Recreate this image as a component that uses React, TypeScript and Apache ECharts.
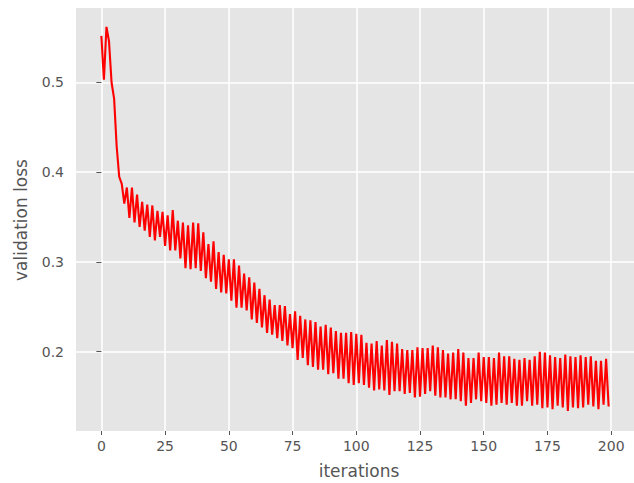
import React, { useEffect, useRef } from "react";
import * as echarts from "echarts";

const lossValues: number[] = [
  0.552, 0.503, 0.562, 0.546, 0.5, 0.482, 0.429, 0.395, 0.387, 0.365,
  0.383, 0.349, 0.383, 0.344, 0.375, 0.339, 0.367, 0.335, 0.364, 0.328,
  0.363, 0.324, 0.357, 0.328, 0.356, 0.318, 0.352, 0.313, 0.358, 0.313,
  0.346, 0.304, 0.344, 0.293, 0.341, 0.292, 0.344, 0.293, 0.343, 0.29,
  0.333, 0.282, 0.32, 0.278, 0.323, 0.27, 0.311, 0.266, 0.308, 0.265,
  0.303, 0.257, 0.303, 0.249, 0.296, 0.249, 0.287, 0.246, 0.283, 0.236,
  0.277, 0.232, 0.27, 0.227, 0.263, 0.221, 0.258, 0.219, 0.252, 0.215,
  0.252, 0.212, 0.251, 0.207, 0.242, 0.204, 0.245, 0.191, 0.24, 0.193,
  0.236, 0.185, 0.235, 0.183, 0.233, 0.18, 0.228, 0.18, 0.23, 0.175,
  0.227, 0.176, 0.223, 0.17, 0.221, 0.17, 0.221, 0.165, 0.222, 0.163,
  0.22, 0.165, 0.219, 0.163, 0.21, 0.16, 0.209, 0.157, 0.212, 0.158,
  0.207, 0.157, 0.213, 0.152, 0.211, 0.156, 0.209, 0.156, 0.203, 0.153,
  0.202, 0.154, 0.202, 0.149, 0.205, 0.15, 0.204, 0.153, 0.204, 0.156,
  0.207, 0.151, 0.205, 0.149, 0.202, 0.149, 0.198, 0.147, 0.199, 0.147,
  0.203, 0.145, 0.199, 0.14, 0.193, 0.143, 0.193, 0.147, 0.199, 0.145,
  0.194, 0.143, 0.194, 0.14, 0.193, 0.141, 0.199, 0.143, 0.195, 0.141,
  0.195, 0.143, 0.192, 0.14, 0.191, 0.14, 0.193, 0.145, 0.191, 0.14,
  0.195, 0.141, 0.2, 0.137, 0.199, 0.138, 0.196, 0.136, 0.194, 0.14,
  0.193, 0.138, 0.197, 0.134, 0.195, 0.138, 0.194, 0.137, 0.196, 0.138,
  0.194, 0.141, 0.195, 0.139, 0.19, 0.136, 0.19, 0.141, 0.192, 0.139,
];

const iterations: number[] = lossValues.map((_, i) => i);

const xTickValues: number[] = [0, 25, 50, 75, 100, 125, 150, 175, 200];
const yTickValues: number[] = [0.2, 0.3, 0.4, 0.5];

const xLabel = "iterations";
const yLabel = "validation loss";

export default function App() {
  const ref = useRef<HTMLDivElement>(null);

  useEffect(() => {
    if (!ref.current) return;
    const chart = echarts.init(ref.current, undefined, { renderer: "svg" });
    const font = "DejaVu Sans";
    const tickColor = "#555555";
    chart.setOption({
      animation: false,
      backgroundColor: "#ffffff",
      grid: { left: 76, top: 8, width: 567, height: 423, containLabel: false, backgroundColor: "#E5E5E5", show: true, borderWidth: 0 },
      xAxis: {
        type: "value",
        min: -9.95,
        max: 208.95,
        axisLine: { show: false },
        axisTick: {
          show: true,
          customValues: xTickValues,
          length: 4,
          lineStyle: { color: tickColor, width: 1 },
        },
        axisLabel: {
          customValues: xTickValues,
          color: tickColor,
          fontFamily: font,
          fontSize: 14,
          margin: 8,
        },
        splitLine: { show: true, lineStyle: { color: "#ffffff", width: 1.5 } },
      },
      yAxis: {
        type: "value",
        min: 0.1117,
        max: 0.583,
        axisLine: { show: false },
        axisTick: {
          show: true,
          customValues: yTickValues,
          length: 5,
          lineStyle: { color: tickColor, width: 1 },
        },
        axisLabel: {
          customValues: yTickValues,
          color: tickColor,
          fontFamily: font,
          fontSize: 14,
          margin: 12,
          formatter: (v: number) => v.toFixed(1),
        },
        splitLine: { show: true, lineStyle: { color: "#ffffff", width: 1.5 } },
      },
      series: [
        {
          type: "line",
          data: iterations.map((it, i) => [it, lossValues[i]]),
          showSymbol: false,
          symbol: "none",
          lineStyle: { color: "#FF0000", width: 2.1 },
          itemStyle: { color: "#FF0000" },
          z: 5,
        },
      ],
      graphic: [
        {
          type: "text",
          x: 359,
          y: 471,
          style: {
            text: xLabel,
            fontFamily: font,
            fontSize: 17,
            fill: tickColor,
            align: "center",
            verticalAlign: "middle",
          },
        },
        {
          type: "text",
          x: 21,
          y: 220,
          rotation: Math.PI / 2,
          style: {
            text: yLabel,
            fontFamily: font,
            fontSize: 17,
            fill: tickColor,
            align: "center",
            verticalAlign: "middle",
          },
        },
      ],
    });
    return () => chart.dispose();
  }, []);

  return (
    <div
      ref={ref}
      style={{ position: "fixed", left: 0, top: 0, width: 634, height: 483 }}
    />
  );
}
